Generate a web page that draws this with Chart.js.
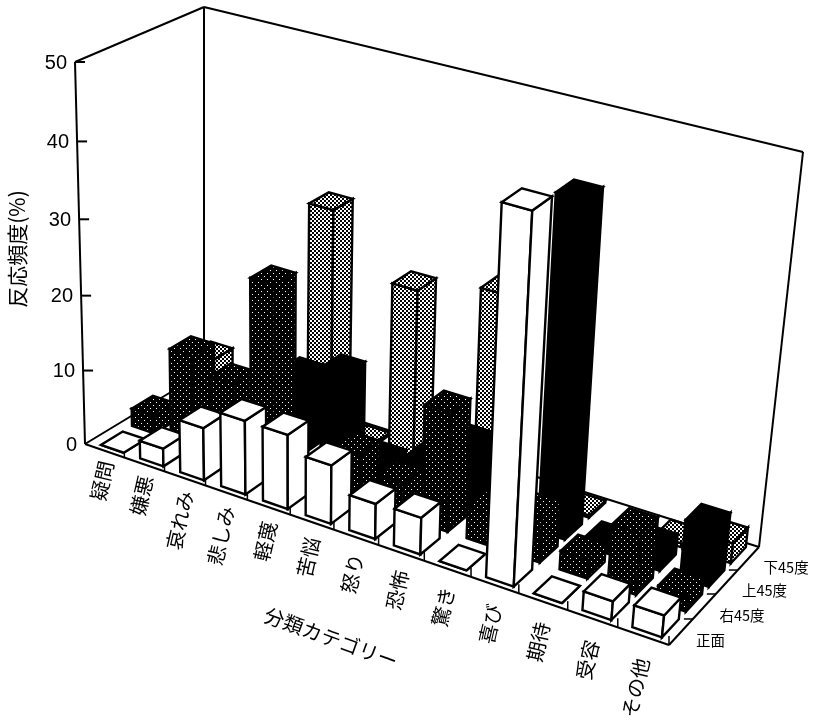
<!DOCTYPE html>
<html lang="ja">
<head>
<meta charset="utf-8">
<title>反応頻度</title>
<script src="https://cdn.jsdelivr.net/npm/chart.js@4/dist/chart.umd.min.js"></script>
<style>
  html, body { margin: 0; padding: 0; background: #fff; }
  canvas { display: block; }
</style>
</head>
<body>
<canvas id="canvas" width="819" height="722"></canvas>
<script>
var categories = ['疑問', '嫌悪', '哀れみ', '悲しみ', '軽蔑', '苦悩', '怒り', '恐怖', '驚き', '喜び', '期待', '受容', 'その他'];
var seriesNames = ['正面', '右45度', '上45度', '下45度'];
var frontValues = [0, 2.4, 7, 9.8, 9.8, 7.7, 4.6, 4.8, 0, 46.7, 0, 2.4, 2.8];
var rightValues = [2.4, 12.3, 10.3, 25, null, 6.3, 4.4, 15.5, 4.2, 6, 2.4, 7.9, 2.1];
var upperValues = [null, null, null, 10.4, 12.5, 2.4, 4.2, 8.4, null, 43.2, 1.2, 2.7, 7.5];
var lowerValues = [5.2, 0, 0, 30.3, 0.3, 22.9, null, 25.6, null, 0.3, null, 0.5, 2.6];
var yTitle = '反応頻度(%)';
var xTitle = '分類カテゴリー';

// box corners on the page, the view is a perspective one
var floorCorners = [[85, 444], [669, 645], [759, 547], [204, 372]];
var topCorners = [[75, 62], [710, 235], [803, 152], [204, 7]];

function squareToQuad(q) {
  var dx1 = q[1][0] - q[2][0], dx2 = q[3][0] - q[2][0], sx = q[0][0] - q[1][0] + q[2][0] - q[3][0];
  var dy1 = q[1][1] - q[2][1], dy2 = q[3][1] - q[2][1], sy = q[0][1] - q[1][1] + q[2][1] - q[3][1];
  var det = dx1 * dy2 - dx2 * dy1;
  var g = (sx * dy2 - dx2 * sy) / det;
  var h = (dx1 * sy - sx * dy1) / det;
  return function(u, d) {
    var w = g * u + h * d + 1;
    return [
      ((q[1][0] - q[0][0] + g * q[1][0]) * u + (q[3][0] - q[0][0] + h * q[3][0]) * d + q[0][0]) / w,
      ((q[1][1] - q[0][1] + g * q[1][1]) * u + (q[3][1] - q[0][1] + h * q[3][1]) * d + q[0][1]) / w
    ];
  };
}

var floorMap = squareToQuad(floorCorners);
var topMap = squareToQuad(topCorners);

function project(u, d, z) {
  var a = floorMap(u, d);
  var b = topMap(u, d);
  // heights get a little longer near the top, the camera looks down
  var t = z / (1.05 - 0.05 * z);
  return [a[0] + (b[0] - a[0]) * t, a[1] + (b[1] - a[1]) * t];
}

function makePattern(size, back, dot, dots, dotSize) {
  var c = document.createElement('canvas');
  c.width = size;
  c.height = size;
  var g = c.getContext('2d');
  g.fillStyle = back;
  g.fillRect(0, 0, size, size);
  g.fillStyle = dot;
  dots.forEach(function(p) {
    g.fillRect(p[0], p[1], dotSize, dotSize);
  });
  return document.createElement('canvas').getContext('2d').createPattern(c, 'repeat');
}

var darkDots = makePattern(6, '#000', '#fff', [[0, 0], [3, 3]], 1);
var lightDots = makePattern(4, '#fff', '#000', [[0, 0], [2, 2]], 2);
var fills = ['#fff', darkDots, '#000', lightDots];

function poly(ctx, pts, fill) {
  ctx.beginPath();
  pts.forEach(function(p, i) {
    if (i === 0) ctx.moveTo(p[0], p[1]);
    else ctx.lineTo(p[0], p[1]);
  });
  ctx.closePath();
  ctx.fillStyle = fill;
  ctx.fill();
  ctx.stroke();
}

function line(ctx, a, b) {
  ctx.beginPath();
  ctx.moveTo(a[0], a[1]);
  ctx.lineTo(b[0], b[1]);
  ctx.stroke();
}

function drawBox(ctx) {
  ctx.strokeStyle = '#000';
  ctx.lineWidth = 2;
  line(ctx, topCorners[0], topCorners[3]);
  line(ctx, topCorners[3], topCorners[2]);
  line(ctx, topCorners[2], floorCorners[2]);
  line(ctx, topCorners[3], floorCorners[3]);
  line(ctx, topCorners[0], floorCorners[0]);
  line(ctx, floorCorners[0], floorCorners[1]);
  line(ctx, floorCorners[1], floorCorners[2]);
  line(ctx, floorCorners[2], floorCorners[3]);
  line(ctx, floorCorners[3], floorCorners[0]);
}

var box3d = {
  id: 'box3d',
  afterDatasetsDraw: function(chart) {
    var ctx = chart.ctx;
    var xs = chart.scales.x, zs = chart.scales.depth, ys = chart.scales.y;
    var cellU = 1 / categories.length, cellD = 1 / seriesNames.length;
    var halfU = cellU * 0.29, halfD = cellD * 0.35;

    function uOf(i) {
      var u = (xs.getPixelForValue(i) - xs.left) / xs.width;
      return u + 0.006 * (1 - u);
    }
    function dOf(s) { return (zs.getPixelForValue(s) - zs.left) / zs.width; }
    function zOf(v) { return (ys.bottom - ys.getPixelForValue(v)) / ys.height; }

    ctx.save();
    ctx.lineJoin = 'miter';
    drawBox(ctx);

    // y axis ticks and labels
    ctx.font = '20px "Liberation Sans"';
    ctx.textAlign = 'right';
    ctx.textBaseline = 'middle';
    ctx.fillStyle = '#000';
    ys.ticks.forEach(function(t) {
      var p = project(0, 0, zOf(t.value));
      if (t.value > 0) line(ctx, p, [p[0] + 10, p[1]]);
      ctx.fillText(t.label, p[0] - 8, p[1] + 1);
    });

    // ticks along the floor edges
    ctx.lineWidth = 1.5;
    for (var i = 1; i <= categories.length; i++) {
      var a = project(i * cellU, 0, 0);
      line(ctx, a, [a[0], a[1] - 9]);
    }
    for (var s = 1; s < seriesNames.length; s++) {
      var b = project(1, s * cellD, 0);
      line(ctx, b, [b[0] - 9, b[1]]);
    }

    // back rows first, left to right inside a row
    chart.data.datasets.slice().reverse().forEach(function(ds) {
      var s = seriesNames.indexOf(ds.label);
      ds.data.forEach(function(v, i) {
        if (v === null) return;
        var u = uOf(i), d = dOf(s), z = zOf(v);
        var fl = project(u - halfU, d - halfD, 0), fr = project(u + halfU, d - halfD, 0), br = project(u + halfU, d + halfD, 0);
        var tfl = project(u - halfU, d - halfD, z), tfr = project(u + halfU, d - halfD, z);
        var tbr = project(u + halfU, d + halfD, z), tbl = project(u - halfU, d + halfD, z);
        ctx.lineWidth = 2.4;
        ctx.strokeStyle = '#000';
        poly(ctx, [fl, fr, tfr, tfl], fills[s]);
        poly(ctx, [fr, br, tbr, tfr], fills[s]);
        poly(ctx, [tfl, tfr, tbr, tbl], fills[s]);
      });
    });

    // category labels, read from the bottom up
    ctx.fillStyle = '#000';
    ctx.font = '20px "Noto Sans CJK JP"';
    ctx.textAlign = 'right';
    ctx.textBaseline = 'middle';
    categories.forEach(function(name, i) {
      var u = uOf(i);
      var p = project(u, 0, 0);
      ctx.save();
      ctx.translate(p[0] - 1, p[1] + 9 + 14 * u);
      ctx.rotate(-77 * Math.PI / 180);
      ctx.fillText(name, 0, 0);
      ctx.restore();
    });

    // depth labels on the right
    ctx.font = '14.5px "Noto Sans CJK JP"';
    ctx.textAlign = 'left';
    seriesNames.forEach(function(name, s) {
      var p = project(1, dOf(s), 0);
      ctx.fillText(name, p[0] + 15, p[1] + 9);
    });

    // axis titles
    ctx.font = '21px "Noto Sans CJK JP"';
    ctx.textAlign = 'center';
    ctx.save();
    ctx.translate(17, 249);
    ctx.rotate(-Math.PI / 2);
    ctx.fillText(yTitle, 0, 0);
    ctx.restore();
    ctx.font = '20px "Noto Sans CJK JP"';
    ctx.save();
    ctx.translate(331, 638);
    ctx.rotate(20 * Math.PI / 180);
    ctx.fillText(xTitle, 0, 0);
    ctx.restore();
    ctx.restore();
  }
};

function makeDataset(name, values) {
  return { label: name, data: values, backgroundColor: 'transparent', borderWidth: 0 };
}

new Chart(document.getElementById('canvas'), {
  type: 'bar',
  data: {
    labels: categories,
    datasets: [
      makeDataset(seriesNames[0], frontValues),
      makeDataset(seriesNames[1], rightValues),
      makeDataset(seriesNames[2], upperValues),
      makeDataset(seriesNames[3], lowerValues)
    ]
  },
  options: {
    responsive: false,
    animation: false,
    plugins: { legend: { display: false }, tooltip: { enabled: false } },
    scales: {
      x: { type: 'category', offset: true, display: false },
      depth: { type: 'category', axis: 'x', labels: seriesNames, offset: true, display: false },
      y: { type: 'linear', min: 0, max: 50, ticks: { stepSize: 10 }, display: false }
    }
  },
  plugins: [box3d]
});
</script>
</body>
</html>
